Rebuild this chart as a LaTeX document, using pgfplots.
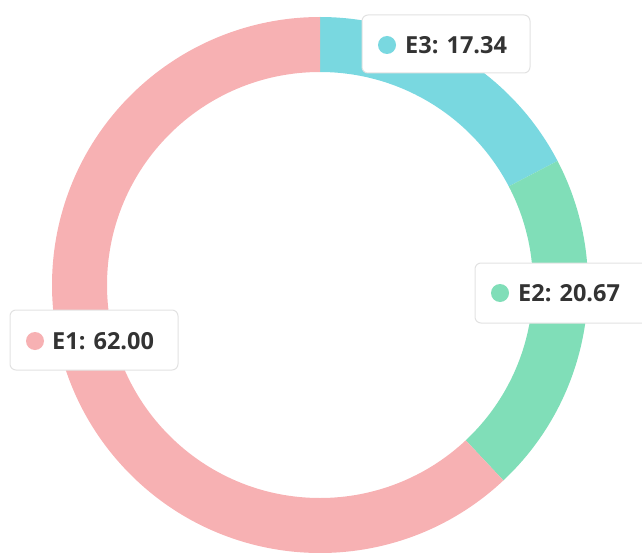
\documentclass[border=0pt]{standalone}
\usepackage{pgfplots}
\usepackage{pgfplotstable}
\pgfplotsset{compat=1.18}
\usepackage{fontspec}
\setmainfont{Open Sans}
\definecolor{cE1}{HTML}{F7B1B3}
\definecolor{cE2}{HTML}{80DEB8}
\definecolor{cE3}{HTML}{79D8E0}
\definecolor{txt}{HTML}{333333}
\definecolor{bord}{HTML}{E2E2E2}
\pgfplotstableread{
label value color
E3 17.34 cE3
E2 20.67 cE2
E1 62.00 cE1
}\data
\def\total{0}
\pgfplotsforeachungrouped \i in {0,1,2}{%
  \pgfplotstablegetelem{\i}{value}\of\data
  \pgfmathsetmacro\total{\total+\pgfplotsretval}%
}
\def\cum{0}
\pgfplotsforeachungrouped \i in {0,1,2}{%
  \pgfplotstablegetelem{\i}{value}\of\data
  \pgfmathsetmacro\angA{90-360*(\cum/\total)}%
  \pgfmathsetmacro\cum{\cum+\pgfplotsretval}%
  \pgfmathsetmacro\angB{90-360*(\cum/\total)}%
  \expandafter\xdef\csname sa\i\endcsname{\angA}%
  \expandafter\xdef\csname sb\i\endcsname{\angB}%
  \pgfplotstablegetelem{\i}{color}\of\data
  \expandafter\xdef\csname col\i\endcsname{\pgfplotsretval}%
}
\tikzset{lab/.style={anchor=west, inner sep=0pt, text=txt, font=\fontsize{23.5}{26}\selectfont\bfseries}}
\begin{document}
\begin{tikzpicture}
\useasboundingbox (0,0) rectangle (642pt,558pt);
\begin{axis}[x=1pt,y=1pt,xmin=0,xmax=642,ymin=0,ymax=558,hide axis,
  anchor=origin, at={(0,0)}]
\pgfplotsinvokeforeach{0,1,2}{%
  \edef\tmp{\noexpand\fill[\csname col#1\endcsname]
    (axis cs:{320+268*cos(\csname sa#1\endcsname)},{273+268*sin(\csname sa#1\endcsname)})
    arc[start angle=\csname sa#1\endcsname, end angle=\csname sb#1\endcsname, radius=268pt]
    -- (axis cs:{320+213*cos(\csname sb#1\endcsname)},{273+213*sin(\csname sb#1\endcsname)})
    arc[start angle=\csname sb#1\endcsname, end angle=\csname sa#1\endcsname, radius=213pt]
    -- cycle;}\tmp
}
% labels
\draw[bord, fill=white, rounded corners=6pt, line width=1pt] (axis cs:362,485) rectangle (axis cs:530,543);
\fill[cE3] (axis cs:387,513) circle[radius=9pt];
\node[lab] at (axis cs:405,513) {E3: 17.34};
\fill[white] (axis cs:642,235) -- (axis cs:481,235) arc[start angle=270, end angle=180, radius=6pt] -- (axis cs:475,289) arc[start angle=180, end angle=90, radius=6pt] -- (axis cs:642,295) -- cycle;
\draw[bord, line width=1pt] (axis cs:642,235) -- (axis cs:481,235) arc[start angle=270, end angle=180, radius=6pt] -- (axis cs:475,289) arc[start angle=180, end angle=90, radius=6pt] -- (axis cs:642,295);
\fill[cE2] (axis cs:500,265) circle[radius=9pt];
\node[lab] at (axis cs:518,265) {E2: 20.67};
\draw[bord, fill=white, rounded corners=6pt, line width=1pt] (axis cs:10,188) rectangle (axis cs:178,248);
\fill[cE1] (axis cs:35,217) circle[radius=9pt];
\node[lab] at (axis cs:52,217) {E1: 62.00};
\end{axis}
\end{tikzpicture}
\end{document}
